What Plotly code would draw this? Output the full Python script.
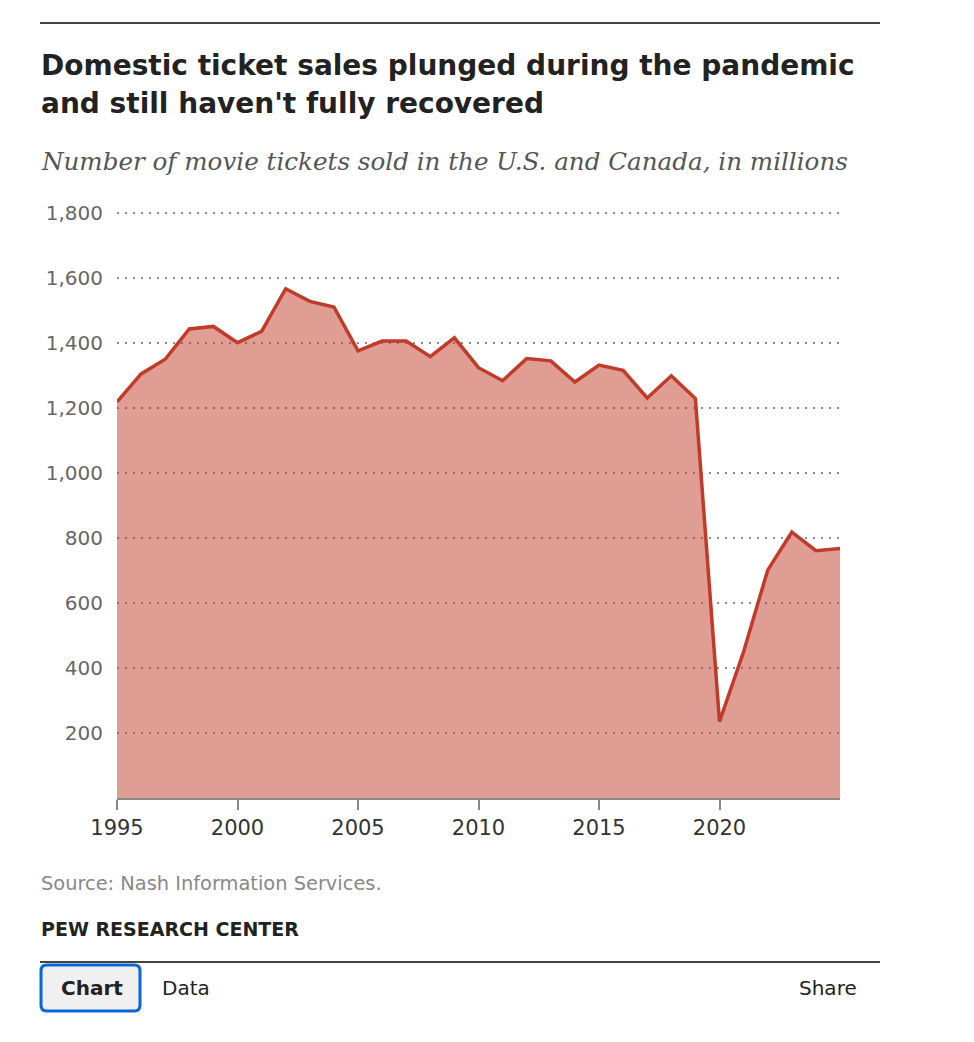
import plotly.graph_objects as go

# ticket sales, millions
years = list(range(1995, 2026))
tickets = [1219, 1305, 1350, 1443, 1451, 1401, 1436, 1567, 1528, 1511,
           1376, 1406, 1406, 1358, 1416, 1324, 1284, 1352, 1345, 1280,
           1332, 1316, 1231, 1299, 1229, 235, 450, 701, 818, 761, 768]

y_ticks = [200, 400, 600, 800, 1000, 1200, 1400, 1600, 1800]
x_ticks = [1995, 2000, 2005, 2010, 2015, 2020]

W, H = 974, 1042
OFF = 8  # page body margin
# plot area in screenshot pixels
L, R, T, B = 117, 840, 210, 798
Y_TOP = (B - T) / 0.325  # 0.325 px per million


def px(x):
    return (x - L) / (R - L)


def py(y):
    return (B - y) / (B - T)


fig = go.Figure()
fig.add_trace(go.Scatter(
    x=years, y=tickets,
    mode='lines',
    line=dict(color='#c13b2a', width=3.5),
    fill='tozeroy',
    fillcolor='rgba(193,59,42,0.5)',
    hoverinfo='x+y'))

notes = [
    dict(x=39, y=66, text="<b>Domestic ticket sales plunged during the pandemic</b>",
         font=dict(family='DejaVu Sans', size=28, color='#222')),
    dict(x=39, y=103, text="<b>and still haven't fully recovered</b>",
         font=dict(family='DejaVu Sans', size=28, color='#222')),
    dict(x=39, y=162, text="<i>Number of movie tickets sold in the U.S. and Canada, in millions</i>",
         font=dict(family='DejaVu Serif', size=24.6, color='#555')),
    dict(x=39, y=883, text="Source: Nash Information Services.",
         font=dict(family='DejaVu Sans', size=19.4, color='#888')),
    dict(x=39, y=929, text="<b>PEW RESEARCH CENTER</b>",
         font=dict(family='DejaVu Sans', size=19, color='#222')),
    dict(x=59, y=988, text="<b>Chart</b>",
         font=dict(family='DejaVu Sans', size=20, color='#222')),
    dict(x=160, y=988, text="Data",
         font=dict(family='DejaVu Sans', size=20, color='#222')),
    dict(x=797, y=988, text="Share",
         font=dict(family='DejaVu Sans', size=20, color='#222')),
]
for n in notes:
    fig.add_annotation(x=px(n['x']), y=py(n['y']), xref='paper', yref='paper',
                       text=n['text'], font=n['font'], showarrow=False,
                       xanchor='left', yanchor='middle')

# top and bottom rules
for yy in (23, 962):
    fig.add_shape(type='line', xref='paper', yref='paper',
                  x0=px(40), x1=px(880), y0=py(yy), y1=py(yy),
                  line=dict(color='#444', width=2))

# "Chart" button with rounded corners
x0, x1, y0, y1, r = px(41), px(140), py(965), py(1011), 0.008
rx = r
ry = r * (R - L) / (B - T)
path = (f"M {x0+rx},{y0} L {x1-rx},{y0} Q {x1},{y0} {x1},{y0-ry} "
        f"L {x1},{y1+ry} Q {x1},{y1} {x1-rx},{y1} L {x0+rx},{y1} "
        f"Q {x0},{y1} {x0},{y1+ry} L {x0},{y0-ry} Q {x0},{y0} {x0+rx},{y0} Z")
fig.add_shape(type='path', xref='paper', yref='paper', path=path,
              fillcolor='#f0f0f0', line=dict(color='#0a66d6', width=3),
              layer='below')

fig.update_layout(
    width=W, height=H,
    margin=dict(l=L - OFF, r=W - R + OFF, t=T - OFF, b=H - B + OFF),
    plot_bgcolor='white', paper_bgcolor='white',
    showlegend=False,
    xaxis=dict(range=[1995, 2025], tickvals=x_ticks, ticks='outside',
               ticklen=10, tickwidth=2, tickcolor='#888',
               showline=True, linecolor='#888', linewidth=2,
               showgrid=False, zeroline=False,
               tickfont=dict(family='DejaVu Sans', size=21, color='#333')),
    yaxis=dict(range=[0, Y_TOP], tickvals=y_ticks, tickformat=',',
               showgrid=True, gridcolor='#8a8a8a', griddash='2px,6px', gridwidth=2,
               zeroline=False, showline=False, ticks='', ticklabelstandoff=13,
               tickfont=dict(family='DejaVu Sans', size=20, color='#666')),
)

fig.write_html("out.html")
